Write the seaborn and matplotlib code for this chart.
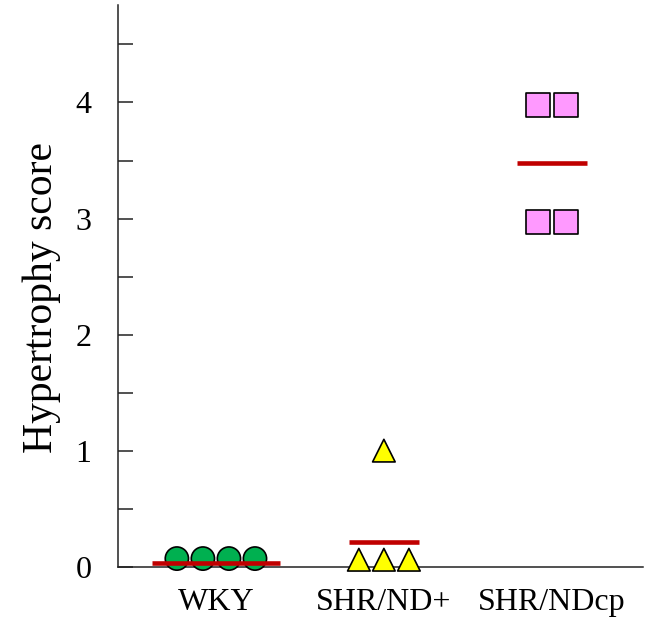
import numpy as np
import pandas as pd
import matplotlib
matplotlib.use("Agg")
import matplotlib.pyplot as plt
import seaborn as sns

# Hypertrophy scores per animal, by strain
categories = ["WKY", "SHR/ND+", "SHR/NDcp"]
wky_scores = [0.07, 0.07, 0.07, 0.07]
shr_nd_plus_scores = [0.06, 0.06, 0.06, 1.0]
shr_ndcp_scores = [3.98, 3.98, 2.97, 2.97]
group_means = [0.03, 0.21, 3.48]

y_ticks = [0, 1, 2, 3, 4]

sns.set_theme(style="ticks")
plt.rcParams["font.family"] = ["Liberation Serif", "DejaVu Serif"]
plt.rcParams["text.color"] = "black"
plt.rcParams["axes.labelcolor"] = "black"
plt.rcParams["xtick.labelcolor"] = "black"
plt.rcParams["ytick.labelcolor"] = "black"

scores = [wky_scores, shr_nd_plus_scores, shr_ndcp_scores]
df = pd.DataFrame(
    [(g, i, v) for i, (g, vals) in enumerate(zip(categories, scores)) for v in vals],
    columns=["group", "gidx", "score"],
)

# side-by-side placement of tied scores, centred on the category
spacing = {"WKY": 0.155, "SHR/ND+": 0.149, "SHR/NDcp": 0.167}
df["rank"] = df.groupby(["group", "score"]).cumcount()
df["ties"] = df.groupby(["group", "score"])["score"].transform("size")
df["xpos"] = df["gidx"] + (df["rank"] - (df["ties"] - 1) / 2) * df["group"].map(spacing)

palette = {"WKY": "#00B050", "SHR/ND+": "#FFFF00", "SHR/NDcp": "#FF99FF"}
markers = {"WKY": "o", "SHR/ND+": "^", "SHR/NDcp": "s"}
sizes = {"WKY": 280, "SHR/ND+": 265, "SHR/NDcp": 290}
half_width = {"WKY": 0.38, "SHR/ND+": 0.21, "SHR/NDcp": 0.21}

fig = plt.figure(figsize=(6.57, 6.25), dpi=100)
ax = fig.add_axes([0.1796, 0.0933, 0.978 - 0.1796, 0.992 - 0.0933])

sns.scatterplot(
    data=df, x="xpos", y="score", hue="group", style="group", size="group",
    palette=palette, markers=markers, sizes=sizes,
    edgecolor="black", linewidth=1.2, legend=False, clip_on=False, zorder=3, ax=ax,
)

for i, (g, m) in enumerate(zip(categories, group_means)):
    hw = half_width[g]
    ax.hlines(m, i - hw, i + hw, color="#C00000", linewidth=3.3, zorder=4, clip_on=False)

ax.set_xlim(-0.583, 2.54)
ax.set_ylim(0, 4.84)
ax.set_xticks(range(len(categories)))
ax.set_xticklabels(categories)
ax.set_yticks(y_ticks)
ax.set_yticks(np.arange(0.5, 5, 1.0), minor=True)
ax.set_xlabel("")
ax.set_ylabel("Hypertrophy score", fontsize=30)
ax.yaxis.set_label_coords(-0.108, 0.48)

ax.tick_params(axis="y", which="both", direction="in", length=11, width=1.1,
               color="#222222", labelsize=23, pad=19)
ax.tick_params(axis="x", length=0, labelsize=23, pad=15)

sns.despine(ax=ax)
for side in ("left", "bottom"):
    ax.spines[side].set_linewidth(1.1)
    ax.spines[side].set_color("#222222")

fig.savefig("out.png", dpi=100)
